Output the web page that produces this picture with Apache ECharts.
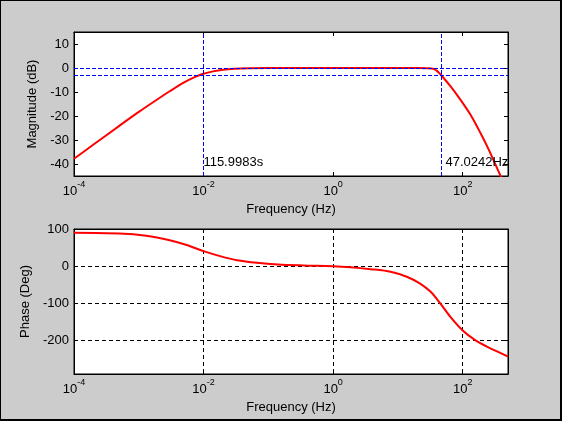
<!DOCTYPE html>
<html lang="en">
    <head>
        <meta charset="UTF-8" />
        <title>Bode</title>
        <script src="https://cdn.jsdelivr.net/npm/echarts@6/dist/echarts.min.js"></script>
        <style>
            body {
                margin: 0;
                padding: 0;
            }
            #wrap {
                position: relative;
                width: 562px;
                height: 421px;
            }
            #chart {
                width: 562px;
                height: 421px;
            }
            #wrap::after {
                content: '';
                position: absolute;
                left: 0;
                top: 0;
                right: 0;
                bottom: 0;
                border-left: 1px solid #000;
                border-top: 1px solid #000;
                border-right: 2px solid #000;
                border-bottom: 2px solid #000;
                pointer-events: none;
            }
        </style>
    </head>
    <body>
        <div id="wrap"><div id="chart"></div></div>
        <script>
            // magnitude curve (Hz, dB)
            let magFreq = [1e-4, 2e-4, 5e-4, 1e-3, 2e-3, 3e-3, 5e-3, 7e-3, 8.6e-3, 0.01, 0.014, 0.02, 0.03, 0.05, 0.1, 1, 10, 20, 28, 36, 40, 46, 65, 92, 132, 188, 252, 384, 500];
            let magDb = [-37.8, -31.9, -24.1, -18.3, -12.8, -9.7, -6.0, -4.0, -3.0, -2.4, -1.4, -0.7, -0.3, -0.1, 0, 0, 0, 0, -0.1, -0.4, -1.2, -2.8, -7.7, -13.2, -19.5, -27.1, -34.0, -45.0, -52.0];

            // phase curve (Hz, deg)
            let phaseFreq = [1e-4, 5e-4, 1.3e-3, 3e-3, 5.5e-3, 0.01, 0.018, 0.033, 0.067, 0.14, 0.35, 1, 1.85, 3.8, 7.7, 14, 22, 32, 45, 65, 100, 150, 240, 500];
            let phaseDeg = [90, 88, 82, 70, 57, 40.5, 27, 16, 9, 4.5, 2, 0, -2.7, -8, -15, -29, -47, -69, -100, -137, -173, -197, -217, -243];

            // cursor lines and their labels
            let cutLow = 1 / 115.9983;
            let cutHigh = 47.0242;
            let cutLevels = [0, -3];
            let cutLabels = ['115.9983s', '47.0242Hz'];

            let fMin = 1e-4;
            let fMax = 500;
            let font = 'Arial, "Liberation Sans", sans-serif';

            function pairs(xs, ys) {
                return xs.map((x, i) => [x, ys[i]]);
            }

            function freqLabel(v) {
                let l = Math.log10(v);
                let e = Math.round(l);
                if (Math.abs(l - e) > 1e-6 || e % 2 !== 0) return '';
                return '{b|10}{s|' + e + '}';
            }

            function xAxisFor(gridIndex, pos, showLabel, grid) {
                return {
                    type: 'log',
                    logBase: 10,
                    gridIndex: gridIndex,
                    position: pos,
                    min: fMin,
                    max: fMax,
                    interval: 2,
                    name: showLabel ? 'Frequency (Hz)' : '',
                    nameLocation: 'middle',
                    nameGap: 27,
                    nameTextStyle: { color: '#000', fontSize: 13, fontFamily: font },
                    axisLine: { show: true, onZero: false, lineStyle: { color: '#000', width: 1 } },
                    axisTick: { show: true, inside: true, length: 4, lineStyle: { color: '#000' } },
                    minorTick: { show: false },
                    axisLabel: {
                        show: showLabel,
                        margin: 4,
                        color: '#000',
                        fontFamily: font,
                        formatter: freqLabel,
                        rich: {
                            b: { fontSize: 13, fontFamily: font, color: '#000', verticalAlign: 'bottom', lineHeight: 18 },
                            s: { fontSize: 9, fontFamily: font, color: '#000', verticalAlign: 'top', lineHeight: 18 }
                        }
                    },
                    splitLine: {
                        show: grid,
                        lineStyle: { color: '#000', type: [4, 3], width: 1 }
                    }
                };
            }

            function yAxisFor(gridIndex, pos, showLabel, name, gap, min, max, step, grid) {
                return {
                    type: 'value',
                    gridIndex: gridIndex,
                    position: pos,
                    min: min,
                    max: max,
                    name: showLabel ? name : '',
                    nameLocation: 'middle',
                    nameGap: gap,
                    nameTextStyle: { color: '#000', fontSize: 13, fontFamily: font },
                    axisLine: { show: true, onZero: false, lineStyle: { color: '#000', width: 1 } },
                    axisTick: { show: true, inside: true, length: 4, lineStyle: { color: '#000' } },
                    axisLabel: {
                        show: showLabel,
                        margin: 5,
                        color: '#000',
                        fontSize: 13,
                        fontFamily: font,
                        formatter: (v) => (v % step === 0 ? String(v) : '')
                    },
                    splitLine: {
                        show: grid,
                        lineStyle: { color: '#000', type: [4, 3], width: 1 }
                    }
                };
            }

            let blueDash = { color: '#0000ff', type: [4, 2], width: 1 };

            let myChart = echarts.init(document.getElementById('chart'));
            let option = {
                animation: false,
                backgroundColor: '#cccccc',
                grid: [
                    { left: 74, top: 32, right: 54, height: 144, show: true, backgroundColor: '#fff', borderColor: '#000', borderWidth: 1 },
                    { left: 74, top: 229, right: 54, height: 145, show: true, backgroundColor: '#fff', borderColor: '#000', borderWidth: 1 }
                ],
                xAxis: [
                    xAxisFor(0, 'bottom', true, false),
                    xAxisFor(0, 'top', false, false),
                    xAxisFor(1, 'bottom', true, true),
                    xAxisFor(1, 'top', false, false)
                ],
                yAxis: [
                    yAxisFor(0, 'left', true, 'Magnitude (dB)', 25, -45, 15, 10, false),
                    yAxisFor(0, 'right', false, '', 0, -45, 15, 10, false),
                    yAxisFor(1, 'left', true, 'Phase (Deg)', 32, -290, 100, 100, true),
                    yAxisFor(1, 'right', false, '', 0, -290, 100, 100, false)
                ],
                series: [
                    {
                        type: 'line',
                        xAxisIndex: 0,
                        yAxisIndex: 0,
                        data: pairs(magFreq, magDb),
                        smooth: 0.3,
                        showSymbol: false,
                        clip: true,
                        lineStyle: { color: '#ff0000', width: 2 },
                        markLine: {
                            silent: true,
                            symbol: 'none',
                            label: { show: false },
                            lineStyle: blueDash,
                            data: [
                                { yAxis: cutLevels[0] },
                                { yAxis: cutLevels[1] },
                                { xAxis: cutLow },
                                { xAxis: cutHigh }
                            ]
                        },
                        markPoint: {
                            silent: true,
                            symbolSize: 0,
                            label: {
                                show: true,
                                position: 'right',
                                distance: 4,
                                color: '#000',
                                fontSize: 13,
                                fontFamily: font,
                                formatter: (p) => p.name
                            },
                            data: [
                                { name: cutLabels[0], coord: [cutLow, -39.5] },
                                { name: cutLabels[1], coord: [cutHigh, -39.5] }
                            ]
                        },
                        z: 3
                    },
                    {
                        type: 'line',
                        xAxisIndex: 2,
                        yAxisIndex: 2,
                        data: pairs(phaseFreq, phaseDeg),
                        smooth: 0.3,
                        showSymbol: false,
                        clip: true,
                        lineStyle: { color: '#ff0000', width: 2 },
                        z: 3
                    }
                ]
            };
            myChart.setOption(option);
        </script>
    </body>
</html>
